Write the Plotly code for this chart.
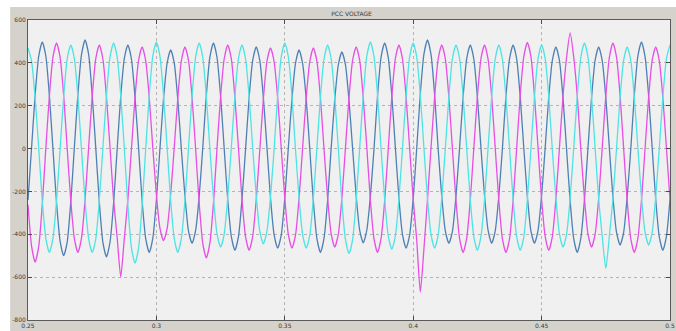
import plotly.graph_objects as go

# Sample grid (read at 12 points per 60 Hz cycle, starting at t = 0.25 s)
t_start = 0.25
t_step = 1.0 / 720.0

# Phase A (blue) values, one row per cycle
phase_a = [
    -240, 4, 250, 430, 498, 432, 246, -3, -252, -432, -500, -435,
    -248, 6, 255, 438, 507, 440, 250, 2, -250, -438, -505, -436,
    -254, -2, 244, 420, 484, 418, 240, 5, -245, -420, -485, -418,
    -240, 3, 232, 398, 460, 400, 228, -4, -220, -385, -442, -382,
    -222, 5, 248, 428, 493, 425, 244, 2, -238, -410, -475, -412,
    -236, -3, 238, 412, 475, 410, 236, 4, -232, -402, -465, -404,
    -230, 6, 230, 398, 460, 396, 232, -2, -244, -420, -485, -418,
    -242, 2, 226, 390, 451, 392, 224, 3, -218, -382, -440, -380,
    -222, -4, 246, 428, 493, 426, 248, 4, -232, -402, -465, -404,
    -234, 5, 255, 440, 507, 438, 252, -3, -222, -384, -442, -386,
    -220, 3, 242, 420, 484, 418, 240, 2, -220, -382, -442, -384,
    -222, -2, 244, 418, 484, 420, 242, 5, -222, -384, -442, -382,
    -220, 4, 238, 410, 475, 412, 236, -3, -244, -420, -485, -418,
    -242, 3, 236, 412, 475, 410, 238, 2, -226, -390, -450, -392,
    -224, -3, 250, 432, 498, 430, 248, 4, -238, -412, -475, -410,
    -236,
]

# Phase B (magenta)
phase_b = [
    -262, -455, -530, -458, -262, 3, 246, 428, 493, 426, 248, -2,
    -244, -420, -485, -418, -240, 5, 242, 420, 484, 418, 240, 4,
    -240, -415, -600, -420, -238, -3, 238, 412, 475, 410, 236, 2,
    -216, -372, -430, -374, -214, 4, 236, 410, 475, 412, 238, -3,
    -255, -442, -510, -440, -254, 2, 242, 418, 484, 420, 240, 5,
    -238, -412, -475, -410, -236, -4, 234, 408, 470, 406, 236, 3,
    -232, -402, -465, -404, -230, 5, 236, 406, 470, 408, 234, -2,
    -230, -398, -460, -400, -232, 2, 238, 410, 475, 412, 236, 4,
    -242, -420, -485, -418, -244, -3, 242, 420, 484, 418, 242, 3,
    -236, -430, -670, -470, -238, 4, 240, 418, 484, 420, 240, -2,
    -242, -420, -485, -418, -240, 3, 244, 420, 484, 416, 242, 2,
    -240, -420, -485, -422, -244, -2, 248, 428, 495, 430, 246, 4,
    -238, -410, -475, -412, -236, 3, 244, 425, 540, 428, 246, -3,
    -230, -398, -460, -400, -232, 4, 246, 426, 493, 428, 248, 2,
    -244, -420, -485, -418, -242, -2, 238, 412, 475, 410, 236, 3,
    -240,
]

# Phase C (cyan)
phase_c = [
    470, 408, 236, 3, -242, -420, -485, -418, -244, -2, 242, 420,
    484, 420, 240, -4, -244, -420, -485, -422, -240, 4, 246, 428,
    493, 428, 248, 2, -266, -462, -535, -465, -264, -3, 250, 432,
    498, 430, 250, 5, -242, -420, -485, -418, -244, 2, 246, 428,
    493, 426, 244, -2, -230, -398, -460, -400, -228, 4, 242, 420,
    484, 418, 242, 3, -222, -386, -445, -384, -224, -3, 246, 428,
    493, 428, 246, -4, -232, -402, -465, -404, -234, 2, 242, 418,
    484, 420, 240, 2, -246, -424, -490, -426, -244, 4, 250, 432,
    498, 430, 250, -3, -236, -406, -470, -408, -234, 3, 246, 428,
    493, 426, 248, 4, -232, -402, -465, -404, -230, -2, 242, 420,
    484, 420, 242, -2, -238, -412, -475, -410, -236, 5, 242, 418,
    484, 418, 240, 3, -236, -410, -475, -414, -238, -3, 242, 420,
    484, 420, 244, -4, -230, -398, -460, -400, -232, 2, 246, 426,
    493, 428, 246, 3, -236, -410, -560, -408, -234, -2, 238, 412,
    475, 412, 238, 2, -226, -390, -450, -392, -224, 3, 242, 420,
    484,
]

x_tick_vals = [0.25, 0.3, 0.35, 0.4, 0.45, 0.5]
x_tick_text = ["0.25", "0.3", "0.35", "0.4", "0.45", "0.5"]
y_tick_vals = [-800, -600, -400, -200, 0, 200, 400, 600]
y_tick_text = ["-800", "-600", "-400", "-200", "0", "200", "400", "600"]

series = [
    ("Phase A", phase_a, "#4f80b4"),
    ("Phase B", phase_b, "#e64fe4"),
    ("Phase C", phase_c, "#4fe3e3"),
]

fig = go.Figure()
for name, vals, col in series:
    fig.add_trace(go.Scatter(
        x0=t_start, dx=t_step, y=vals, mode="lines", name=name,
        line=dict(color=col, width=1.3, shape="spline", smoothing=0.6),
        showlegend=False,
    ))

frame = "#d5d2cb"
axis_common = dict(
    showline=True, linecolor="#5a5a5a", linewidth=1, mirror="ticks",
    ticks="inside", ticklen=4, tickcolor="#4a4a4a",
    showgrid=True, gridcolor="#b4b4b4", griddash="dot", gridwidth=1,
    zeroline=False, ticklabeloverflow="allow",
    tickfont=dict(family="DejaVu Sans", size=6, color="#3a3a3a"),
)

fig.update_layout(
    width=676, height=331,
    margin=dict(l=28, r=1, t=20, b=11),
    paper_bgcolor=frame,
    plot_bgcolor="#f0f0f0",
    title=dict(text="PCC VOLTAGE", x=0.52, xanchor="center", y=1 - 14 / 331, yanchor="middle",
               font=dict(family="DejaVu Sans", size=6, color="#3a3a3a")),
    xaxis=dict(range=[0.25, 0.5], tickvals=x_tick_vals, ticktext=x_tick_text, **axis_common),
    yaxis=dict(range=[-800, 600], tickvals=y_tick_vals, ticktext=y_tick_text, **axis_common),
    shapes=[
        dict(type="rect", xref="paper", yref="paper", x0=-0.06, x1=1.01,
             y0=(320 - 7) / 300, y1=1.08, fillcolor="white", line=dict(width=0), layer="below"),
        dict(type="rect", xref="paper", yref="paper", x0=-0.06, x1=(10 - 28) / 647,
             y0=-0.05, y1=1.08, fillcolor="white", line=dict(width=0), layer="below"),
    ],
)

fig.write_html(
    "out.html",
    config={"displayModeBar": False},
    post_script="document.body.style.margin='0';document.body.style.overflow='hidden';",
)
